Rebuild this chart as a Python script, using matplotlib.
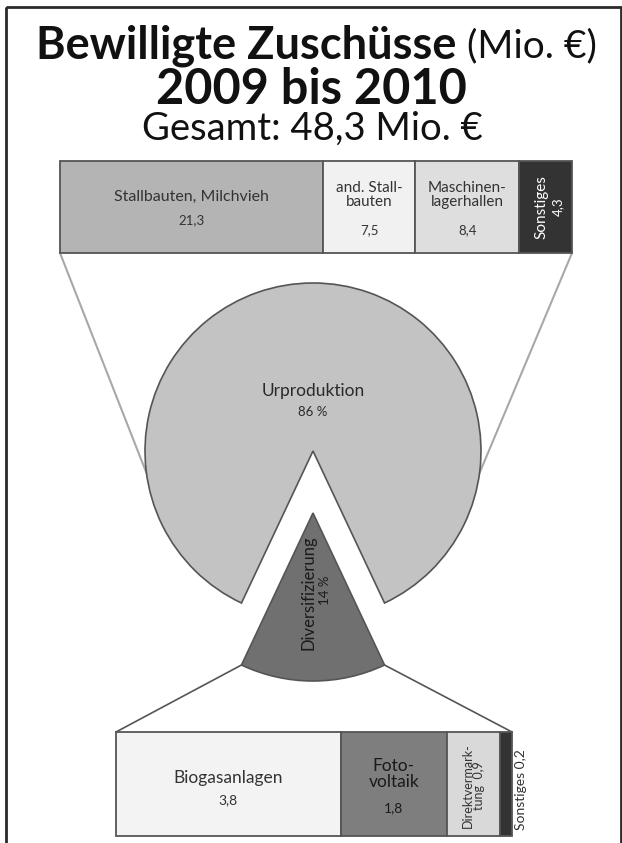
import numpy as np
import matplotlib
matplotlib.use("Agg")
import matplotlib.pyplot as plt
from matplotlib.patches import Rectangle
from matplotlib.transforms import blended_transform_factory

# ---- data -------------------------------------------------------------
total_label = "Gesamt: 48,3 Mio. €"

pie_labels = ["Urproduktion", "Diversifizierung"]
pie_shares = [86, 14]

top_names = ["Stallbauten, Milchvieh", "and. Stall-\nbauten", "Maschinen-\nlagerhallen", "Sonstiges"]
top_values = [21.3, 7.5, 8.4, 4.3]
top_value_text = ["21,3", "7,5", "8,4", "4,3"]

bottom_names = ["Biogasanlagen", "Foto-\nvoltaik", "Direktvermark-\ntung", "Sonstiges"]
bottom_values = [3.8, 1.8, 0.9, 0.2]
bottom_value_text = ["3,8", "1,8", "0,9", "0,2"]

# ---- styling ----------------------------------------------------------
FONT = ["Lato", "DejaVu Sans"]
plt.rcParams["font.family"] = FONT
W, H = 622, 843
EDGE = "#555555"
LINK = "#a8a8a8"
TXT = "#333333"

top_colors = ["#b4b4b4", "#f1f1f1", "#dedede", "#333333"]
pie_colors = ["#c3c3c3", "#707070"]
bottom_colors = ["#f3f3f3", "#7e7e7e", "#d9d9d9", "#333333"]

fig = plt.figure(figsize=(W / 100, H / 100), dpi=100)
bg = fig.add_axes([0, 0, 1, 1])
bg.set_xlim(0, W)
bg.set_ylim(H, 0)
bg.axis("off")


def frac(x0, y0, x1, y1):
    return [x0 / W, 1 - y1 / H, (x1 - x0) / W, (y1 - y0) / H]


# frame
bg.add_patch(Rectangle((6, 7), 615, 850, fill=False, ec="#2a2a2a", lw=2, zorder=0))

# ---- titles -----------------------------------------------------------
bg.text(456, 46, "Bewilligte Zuschüsse", ha="right", va="center",
        fontsize=32.5, fontweight="bold", color="#111111")
bg.text(467, 46, "(Mio. €)", ha="left", va="center", fontsize=28, color="#111111")
bg.text(311, 89, "2009 bis 2010", ha="center", va="center",
        fontsize=35, fontweight="bold", color="#111111")
bg.text(312, 129, total_label, ha="center", va="center", fontsize=27.5, color="#111111")

# ---- pie ----------------------------------------------------------------
cx, cy, r = 313, 451, 168
div_frac = pie_shares[1] / sum(pie_shares)
gap = 360 * div_frac
start = 90 + gap / 2
explode_px = 62
wedges, _ = bg.pie(pie_shares, colors=pie_colors, startangle=start,
                   explode=[0, explode_px], radius=r, center=(cx, cy),
                   frame=True, wedgeprops=dict(edgecolor=EDGE, linewidth=1.2))
for w in wedges:
    w.set_zorder(3)
bg.set_xlim(0, W)
bg.set_ylim(H, 0)
bg.axis("off")

bg.text(cx, 391, pie_labels[0], ha="center", va="center", fontsize=12.5, color="#2a2a2a", zorder=5)
bg.text(cx, 412, f"{pie_shares[0]} %", ha="center", va="center", fontsize=9.5, color="#2a2a2a", zorder=5)
bg.text(cx - 5, 593, pie_labels[1], ha="center", va="center", rotation=90,
        fontsize=12, color="#1a1a1a", zorder=5)
bg.text(cx + 12, 590, f"{pie_shares[1]} %", ha="center", va="center", rotation=90,
        fontsize=9.5, color="#1a1a1a", zorder=5)

# ---- top stacked bar ---------------------------------------------------
top_box = (60, 161, 572, 253)
ax_top = fig.add_axes(frac(*top_box))
lefts = np.concatenate([[0], np.cumsum(top_values)[:-1]])
ax_top.barh(0, top_values, left=lefts, height=1, color=top_colors,
            edgecolor=EDGE, linewidth=1.3, clip_on=False)
ax_top.set_xlim(0, sum(top_values))
ax_top.set_ylim(-0.5, 0.5)
ax_top.axis("off")
tt = blended_transform_factory(ax_top.transData, ax_top.transAxes)


def yf(py, box):
    return (box[3] - py) / (box[3] - box[1])


centers = lefts + np.array(top_values) / 2
ax_top.text(centers[0], yf(197, top_box), top_names[0], transform=tt, ha="center", va="center",
            fontsize=11.5, color=TXT)
ax_top.text(centers[0], yf(220, top_box), top_value_text[0], transform=tt, ha="center", va="center",
            fontsize=9.5, color=TXT)
for i in (1, 2):
    ax_top.text(centers[i], yf(195, top_box), top_names[i], transform=tt, ha="center", va="center",
                fontsize=11, color=TXT, linespacing=1.05)
    ax_top.text(centers[i], yf(230, top_box), top_value_text[i], transform=tt, ha="center", va="center",
                fontsize=9.5, color=TXT)
ax_top.text(centers[3] - 0.35, yf(207, top_box), top_names[3], transform=tt, ha="center", va="center",
            rotation=90, fontsize=11, color="white")
ax_top.text(centers[3] + 1.0, yf(207, top_box), top_value_text[3], transform=tt, ha="center", va="center",
            rotation=90, fontsize=9.5, color="white")

# ---- bottom stacked bar ------------------------------------------------
bot_box = (116, 732, 512, 836)
ax_bot = fig.add_axes(frac(*bot_box))
blefts = np.concatenate([[0], np.cumsum(bottom_values)[:-1]])
ax_bot.barh(0, bottom_values, left=blefts, height=1, color=bottom_colors,
            edgecolor=EDGE, linewidth=1.3, clip_on=False)
ax_bot.set_xlim(0, sum(bottom_values))
ax_bot.set_ylim(-0.5, 0.5)
ax_bot.axis("off")
tb = blended_transform_factory(ax_bot.transData, ax_bot.transAxes)
bcent = blefts + np.array(bottom_values) / 2
ax_bot.text(bcent[0], yf(778, bot_box), bottom_names[0], transform=tb, ha="center", va="center",
            fontsize=12.5, color=TXT)
ax_bot.text(bcent[0], yf(800, bot_box), bottom_value_text[0], transform=tb, ha="center", va="center",
            fontsize=10, color=TXT)
ax_bot.text(bcent[1], yf(774, bot_box), bottom_names[1], transform=tb, ha="center", va="center",
            fontsize=12.5, color="#1a1a1a", linespacing=1.05)
ax_bot.text(bcent[1], yf(808, bot_box), bottom_value_text[1], transform=tb, ha="center", va="center",
            fontsize=10, color="#1a1a1a")
ax_bot.text(bcent[2], yf(786, bot_box), bottom_names[2] + "  " + bottom_value_text[2],
            transform=tb, ha="center", va="center", rotation=90, fontsize=9,
            color=TXT, linespacing=0.95)
ax_bot.text(bcent[3] + 0.25, yf(790, bot_box), bottom_names[3] + " " + bottom_value_text[3],
            transform=tb, ha="center", va="center", rotation=90, fontsize=10, color=TXT)

# ---- connector lines ----------------------------------------------------
a = np.deg2rad(7.5)
bg.plot([top_box[0], cx - r * np.cos(a)], [top_box[3], cy + r * np.sin(a)], color=LINK, lw=1.5, zorder=1)
bg.plot([top_box[2], cx + r * np.cos(a)], [top_box[3], cy + r * np.sin(a)], color=LINK, lw=1.5, zorder=1)

half = np.deg2rad(gap / 2)
apex_y = cy + explode_px
lx, ly = cx - r * np.sin(half), apex_y + r * np.cos(half)
rx, ry = cx + r * np.sin(half), apex_y + r * np.cos(half)
bg.plot([lx, bot_box[0]], [ly, bot_box[1]], color="#555555", lw=1.2, zorder=1)
bg.plot([rx, bot_box[2]], [ry, bot_box[1]], color="#555555", lw=1.2, zorder=1)

fig.savefig("out.png", dpi=100)
